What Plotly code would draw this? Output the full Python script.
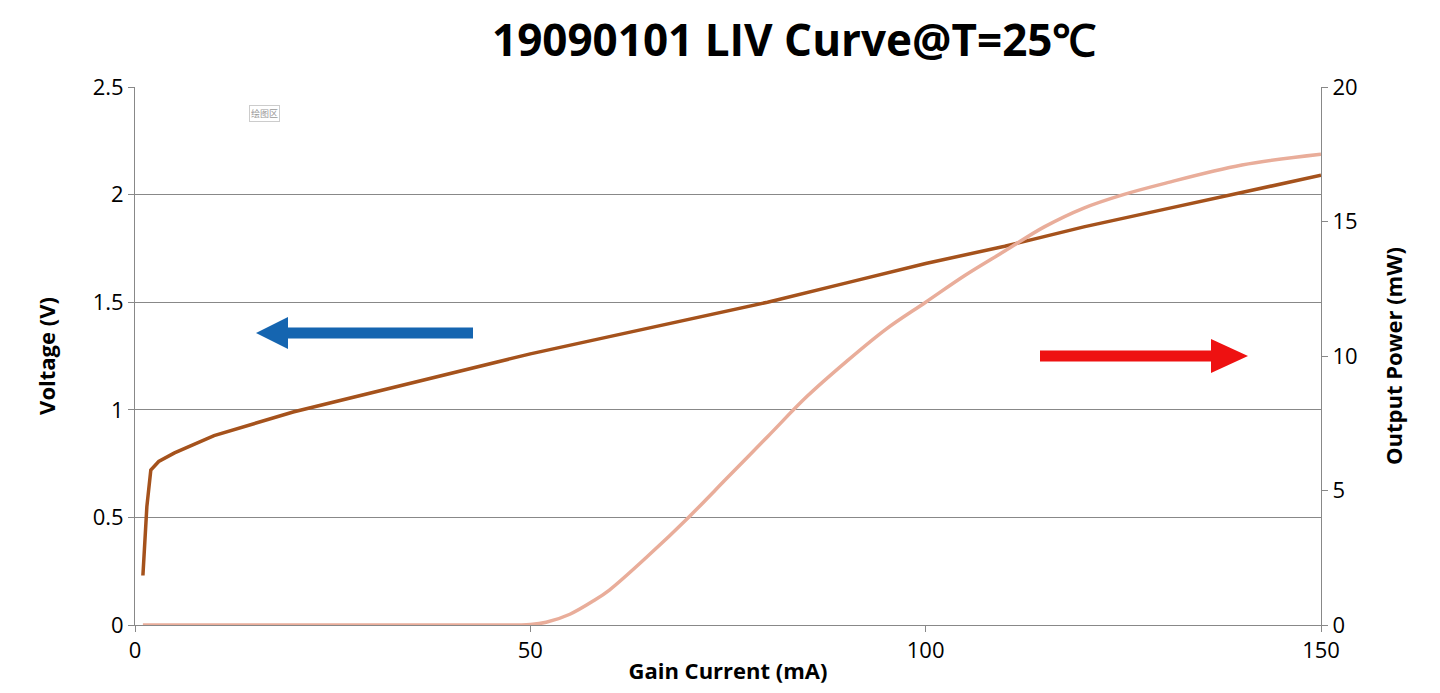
import plotly.graph_objects as go

# -----------------------------
# DATA
# -----------------------------
v_current = [1, 1.5, 2, 3, 5, 10, 20, 30, 40, 50, 60, 70, 80, 90, 100, 110, 120, 130, 140, 150]
voltage = [0.23, 0.55, 0.72, 0.76, 0.80, 0.88, 0.99, 1.08, 1.17, 1.26, 1.34, 1.42, 1.50, 1.59, 1.68, 1.76, 1.85, 1.93, 2.01, 2.09]

p_current = [1, 20, 40, 50, 52, 55, 58, 60, 65, 70, 75, 80, 85, 90, 95, 100, 105, 110, 115, 120, 125, 130, 140, 150]
power = [0, 0, 0, 0.02, 0.1, 0.4, 0.9, 1.3, 2.6, 4.0, 5.5, 7.0, 8.5, 9.8, 11.0, 12.0, 13.0, 13.9, 14.8, 15.5, 16.0, 16.4, 17.1, 17.5]

font = "Open Sans"

fig = go.Figure()
fig.add_trace(go.Scatter(x=v_current, y=voltage, mode="lines", name="Voltage",
                         line=dict(color="#A5521C", width=3.5), yaxis="y"))
fig.add_trace(go.Scatter(x=p_current, y=power, mode="lines", name="Power", line_shape="spline",
                         line=dict(color="#E9AD9A", width=3.5), yaxis="y2"))

# direction arrows (pixel positions mapped to paper coords)
def px(x):
    return (x - 127) / 1186

def py(y):
    return (617 - y) / 538

fig.add_shape(type="line", xref="paper", yref="paper", x0=px(465), x1=px(275),
              y0=py(325), y1=py(325), line=dict(color="#1565B0", width=11))
fig.add_shape(type="path", xref="paper", yref="paper",
              path="M %f %f L %f %f L %f %f Z" % (px(280), py(309), px(248), py(325), px(280), py(341)),
              fillcolor="#1565B0", line=dict(width=0))
fig.add_shape(type="line", xref="paper", yref="paper", x0=px(1032), x1=px(1210),
              y0=py(348), y1=py(348), line=dict(color="#EE1111", width=11))
fig.add_shape(type="path", xref="paper", yref="paper",
              path="M %f %f L %f %f L %f %f Z" % (px(1203), py(331), px(1240), py(348), px(1203), py(365)),
              fillcolor="#EE1111", line=dict(width=0))

fig.add_annotation(xref="paper", yref="paper", x=px(241), y=py(97),
                   text="绘图区", showarrow=False, font=dict(size=9, color="#999999",
                   family="Noto Sans CJK SC"), bordercolor="#cccccc", borderwidth=1, borderpad=1)

fig.update_layout(
    width=1440, height=693,
    margin=dict(l=127, r=127, t=79, b=76, autoexpand=False),
    plot_bgcolor="white", paper_bgcolor="white",
    showlegend=False,
    font=dict(family=font, size=22, color="black"),
    title=dict(text="<b>19090101 LIV Curve@T=25℃</b>", x=0.546, xanchor="center",
               y=0.975, yanchor="top", font=dict(size=44, family=font)),
    xaxis=dict(range=[0, 150], tickvals=[0, 50, 100, 150], showgrid=False, automargin=False,
               showline=True, linecolor="#888888", ticks="outside", ticklen=6, tickcolor="#888888",
               title=dict(text="<b>Gain Current (mA)</b>", font=dict(size=22), standoff=0)),
    yaxis=dict(range=[0, 2.5], tickvals=[0, 0.5, 1, 1.5, 2, 2.5], ticktext=["0", "0.5", "1", "1.5", "2", "2.5"],
               showgrid=True, gridcolor="#888888", gridwidth=1, showline=True, linecolor="#888888",
               ticks="outside", ticklen=6, tickcolor="#888888", automargin=False,
               title=dict(text="<b>Voltage (V)</b>", font=dict(size=22), standoff=30)),
    yaxis2=dict(range=[0, 20], tickvals=[0, 5, 10, 15, 20], overlaying="y", side="right",
                showgrid=False, showline=True, linecolor="#888888", ticks="outside", ticklen=6,
                tickcolor="#888888", automargin=False,
                title=dict(text="<b>Output Power (mW)</b>", font=dict(size=22), standoff=30)),
)

fig.write_html("out.html")
